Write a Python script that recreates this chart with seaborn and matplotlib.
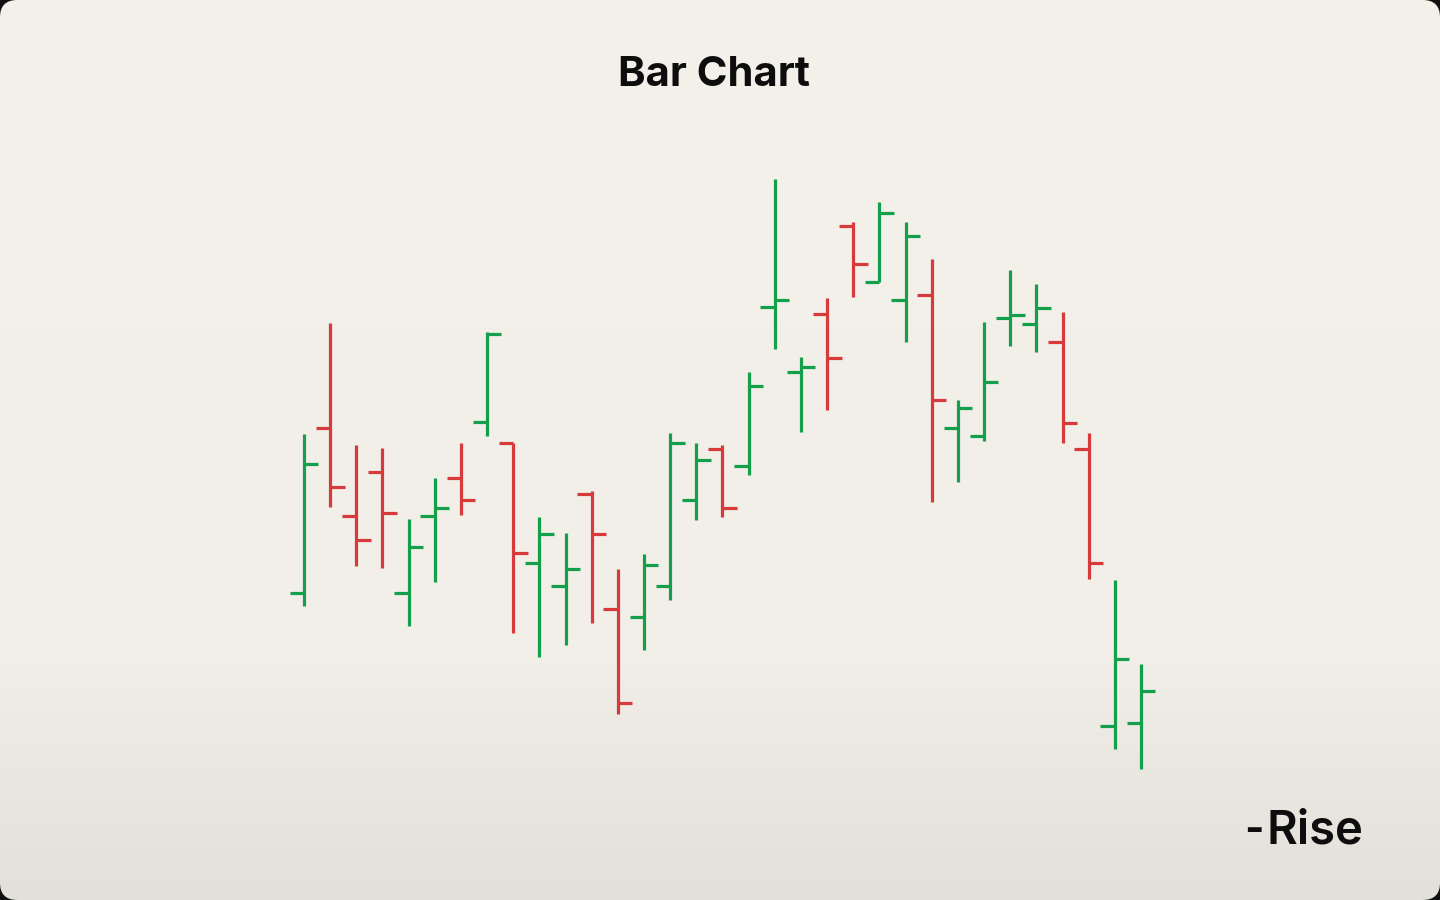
import matplotlib.pyplot as plt
import matplotlib.colors as mcolors
from matplotlib.patches import FancyBboxPatch
import seaborn as sns
import numpy as np
import pandas as pd

# OHLC values
bar_open = [30.7, 47.2, 38.4, 42.8, 30.7, 38.4, 42.2, 47.8, 45.7, 33.7, 31.4,
            40.6, 29.1, 28.3, 31.4, 40.0, 45.1, 43.4, 59.3, 52.8, 58.6, 67.4,
            61.8, 60.0, 60.5, 47.2, 46.4, 58.2, 57.6, 55.8, 45.1, 17.4, 17.7]
bar_high = [46.6, 57.7, 45.5, 45.2, 38.1, 42.2, 45.7, 56.8, 45.7, 38.3, 36.7,
            40.9, 33.1, 34.6, 46.7, 45.7, 45.5, 52.8, 72.1, 54.3, 60.2, 67.8,
            69.8, 67.8, 64.1, 50.0, 57.8, 63.0, 61.6, 58.8, 46.7, 32.0, 23.6]
bar_low = [29.4, 39.3, 33.4, 33.2, 27.4, 31.8, 38.5, 46.4, 26.7, 24.3, 25.5,
           27.7, 18.6, 25.0, 30.0, 38.0, 38.3, 42.5, 55.1, 46.8, 49.0, 60.3,
           61.8, 55.8, 39.8, 41.8, 45.9, 55.4, 54.8, 45.7, 32.1, 15.1, 13.1]
bar_close = [43.6, 41.3, 36.0, 38.7, 35.3, 39.2, 40.0, 56.6, 34.7, 36.6, 33.1,
             36.6, 19.7, 33.5, 45.7, 44.0, 39.2, 51.4, 60.0, 53.3, 54.2, 63.6,
             68.7, 66.4, 50.0, 49.2, 51.8, 58.5, 59.2, 47.7, 33.7, 24.1, 20.9]

df = pd.DataFrame({'open': bar_open, 'high': bar_high,
                   'low': bar_low, 'close': bar_close})
df['idx'] = np.arange(len(df))
df['up'] = df['close'] >= df['open']

GREEN = '#14a04a'
RED = '#d8393b'
colors = np.where(df['up'], GREEN, RED)

sns.set_theme(style='white')
plt.rcParams['font.family'] = ['Inter', 'DejaVu Sans']

fig = plt.figure(figsize=(14.4, 9), dpi=100)
fig.patch.set_facecolor('#111111')

# rounded card with soft vertical gradient
bg = fig.add_axes([0, 0, 1, 1])
bg.set_axis_off()
cmap = mcolors.LinearSegmentedColormap.from_list(
    'card', [(0, '#e3dfd9'), (0.28, '#f2efe9'), (1, '#f4f1eb')])
grad = np.linspace(0, 1, 256).reshape(-1, 1)
im = bg.imshow(grad, cmap=cmap, aspect='auto', extent=[0, 1, 0, 1],
               origin='lower', transform=bg.transAxes)
card = FancyBboxPatch((0, 0), 1, 1, boxstyle='round,pad=0,rounding_size=0.012',
                      transform=bg.transAxes, facecolor='none', edgecolor='none',
                      mutation_aspect=1.6)
bg.add_patch(card)
im.set_clip_path(card)
bg.set_xlim(0, 1)
bg.set_ylim(0, 1)

ax = fig.add_axes([0, 0, 1, 1])
ax.set_axis_off()
ax.patch.set_alpha(0)

lw = 2.3
tick = 0.55
ax.vlines(df['idx'], df['low'], df['high'], colors=colors, lw=lw)
ax.hlines(df['open'], df['idx'] - tick, df['idx'], colors=colors, lw=lw)
ax.hlines(df['close'], df['idx'], df['idx'] + tick, colors=colors, lw=lw)

ax.set_xlim(-11.62, 43.43)
ax.set_ylim(0, 90)

fig.text(0.496, 0.905, 'Bar Chart', ha='center', va='baseline',
         fontsize=30, fontweight='bold', color='#0d0d0d')
# logo: dash + wordmark
fig.text(0.9465, 0.0633, 'Rise', ha='right', va='baseline',
         fontsize=34, fontweight='semibold', color='#0d0d0d')
fig.text(0.8775, 0.0645, '-', ha='right', va='baseline',
         fontsize=30, fontweight='bold', color='#0d0d0d')

fig.savefig('out.png', dpi=100, facecolor=fig.get_facecolor())
